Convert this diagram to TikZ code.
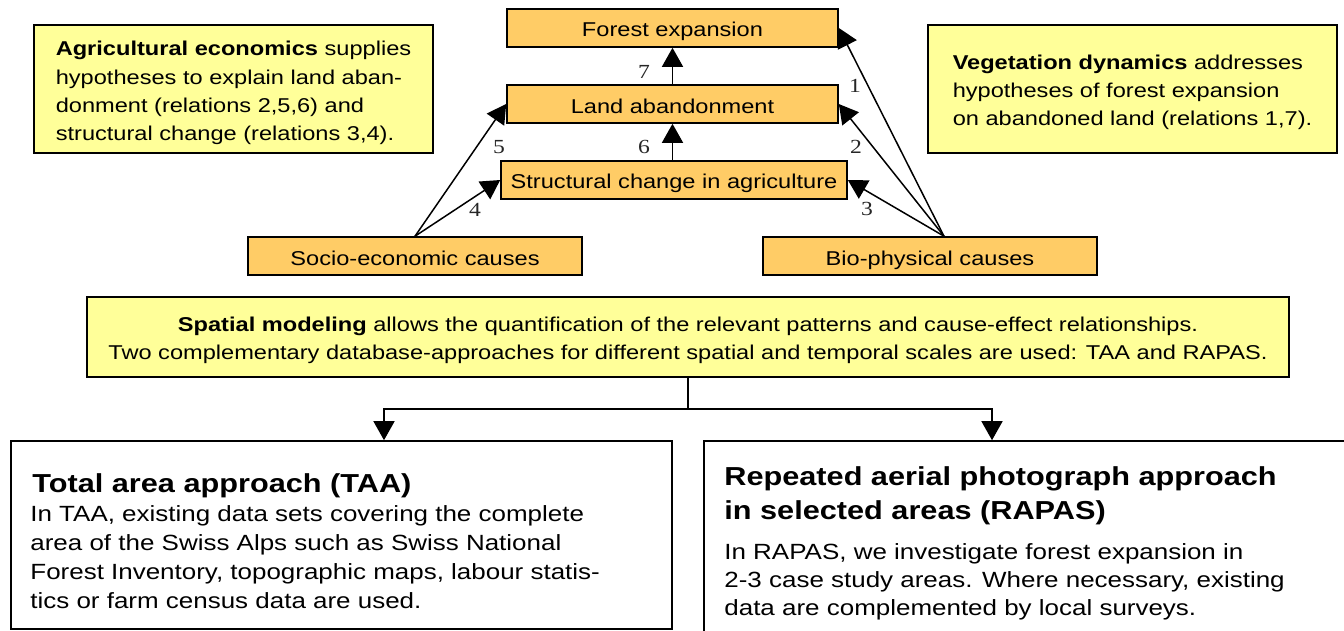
\documentclass[tikz,border=0pt]{standalone}
\usepackage{fontspec}
\setmainfont{Liberation Sans}[FakeStretch=1.18]
\newfontfamily\numfont{Liberation Serif}[FakeStretch=1.18]
\usetikzlibrary{arrows.meta,calc}
\definecolor{boxorange}{HTML}{FFCC66}
\definecolor{boxyellow}{HTML}{FFFF99}
\begin{document}
\begin{tikzpicture}[x=0.5pt,y=-0.5pt,
  obox/.style={draw=black,line width=0.8pt,fill=boxorange,minimum height=19pt,inner sep=0pt,text height=9.7pt,text depth=0.7pt,font=\fontsize{10pt}{12pt}\selectfont},
  ybox/.style={draw=black,line width=0.8pt,fill=boxyellow,inner sep=0pt},
  wbox/.style={draw=black,line width=0.8pt,fill=white,inner sep=0pt},
  arr/.style={line width=0.75pt,-{Triangle[length=9.5pt,width=10.5pt]}},
  conn/.style={line width=0.75pt},
  num/.style={font=\numfont\fontsize{10pt}{12pt}\selectfont,text=black!85,inner sep=0pt},
  ttl/.style={anchor=north west,inner sep=0pt,align=left,font=\bfseries\fontsize{13pt}{17pt}\selectfont},
  bdy/.style={anchor=north west,inner sep=0pt,align=left}
]
\useasboundingbox (0,0) rectangle (1344,631);
\begin{scope}
\clip (0,0) rectangle (1344,631);

% orange boxes
\node[obox,minimum width=165.5pt] (forest) at (672.5,28) {Forest expansion};
\node[obox,minimum width=165.5pt] (land) at (672.5,104) {Land abandonment};
\node[obox,minimum width=173pt] (struct) at (674,180) {Structural change in agriculture};
\node[obox,minimum width=167pt] (socio) at (415,256) {Socio-economic causes};
\node[obox,minimum width=167pt] (bio) at (930,256) {Bio-physical causes};

% yellow boxes
\node[ybox,minimum width=199.5pt,minimum height=64pt,align=left,font=\fontsize{10pt}{14.15pt}\selectfont] (agri) at (233.5,89)
  {\rule{0pt}{11.3pt}\textbf{Agricultural economics} supplies\\hypotheses to explain land aban-\\donment (relations 2,5,6) and\\structural change (relations 3,4).};
\node[ybox,minimum width=204.5pt,minimum height=64pt,align=left,font=\fontsize{10pt}{14pt}\selectfont] (veg) at (1132.5,89)
  {\rule{0pt}{10.3pt}\textbf{Vegetation dynamics} addresses\\hypotheses of forest expansion\\on abandoned land (relations 1,7).};
\node[ybox,minimum width=601pt,minimum height=40pt,align=center,font=\fontsize{10pt}{14pt}\selectfont] (spatial) at (688,337)
  {\rule{0pt}{10.3pt}\textbf{Spatial modeling} allows the quantification of the relevant patterns and cause-effect relationships.\\Two complementary database-approaches for different spatial and temporal scales are used: TAA and RAPAS.};

% bottom boxes
\node[wbox,minimum width=330.5pt,minimum height=94pt] (taa) at (341.5,535) {};
\node[wbox,minimum width=328pt,minimum height=104.5pt] (rapas) at (1032,545.5) {};

\node[ttl] (taatitle) at (32,468) {\strut Total area approach (TAA)};
\node[bdy,font=\fontsize{11pt}{14.5pt}\selectfont] (taabody) at (30,500.7)
  {\strut In TAA, existing data sets covering the complete\\area of the Swiss Alps such as Swiss National\\Forest Inventory, topographic maps, labour statis-\\tics or farm census data are used.};
\node[ttl] (rapastitle) at (724,461) {\strut Repeated aerial photograph approach\\in selected areas (RAPAS)};
\node[bdy,font=\fontsize{11pt}{14pt}\selectfont] (rapasbody) at (724,539.4)
  {\strut In RAPAS, we investigate forest expansion in\\2-3 case study areas. Where necessary, existing\\data are complemented by local surveys.};

% relations
\coordinate (bioapex) at ([xshift=7pt]bio.north);
\draw[arr] (land.north) -- (forest.south);
\draw[arr] (struct.north -| land.south) -- (land.south);
\draw[arr] (bioapex) -- (forest.east);
\draw[arr] (bioapex) -- (land.east);
\draw[arr] (bioapex) -- (struct.east);
\draw[arr] (socio.north) -- (land.west);
\draw[arr] (socio.north) -- (struct.west);

\node[num] (n7) at (644,72) {7};
\node[num] (n1) at (855,86) {1};
\node[num] (n5) at (499,147) {5};
\node[num] (n6) at (644,147) {6};
\node[num] (n2) at (856,147) {2};
\node[num] (n3) at (867,209) {3};
\node[num] (n4) at (475,210) {4};

% spatial connectors
\coordinate (jn) at (688,409);
\draw[conn] (spatial.south) -- (jn);
\draw[arr] (jn) -| ([xshift=21.25pt]taa.north);
\draw[arr] (jn) -| ([xshift=-20pt]rapas.north);
\end{scope}
\end{tikzpicture}
\end{document}
